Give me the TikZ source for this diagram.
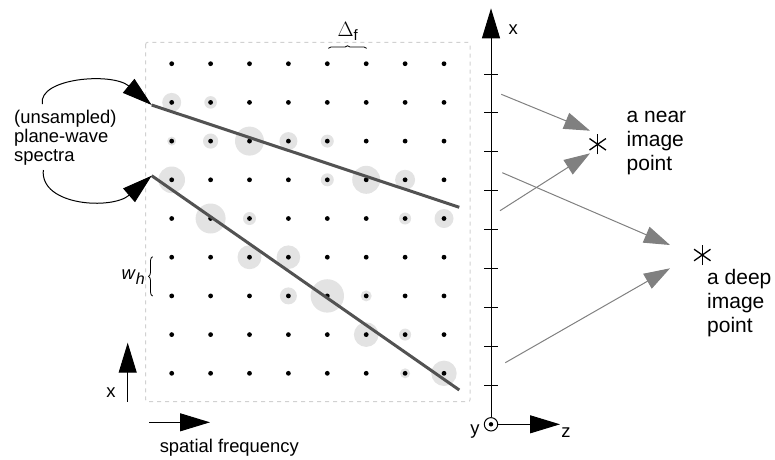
\documentclass[tikz,border=0pt]{standalone}
\usepackage{fontspec}
\setmainfont{Liberation Sans}
\usetikzlibrary{arrows.meta,positioning,calc,decorations.pathreplacing}

\begin{document}
\begin{tikzpicture}[x=1pt, y=-1pt,
    every node/.style={inner sep=0pt, font=\fontsize{18.4}{19}\selectfont},
    bigtip/.style={-{Triangle[length=30pt,width=18pt]}, line width=1pt},
    graytip/.style={-{Triangle[length=26pt,width=17pt]}, gray, line width=1pt},
    spectrum/.style={line width=3pt, black!68},
    halo/.style={fill=black!11},
    sample/.style={fill=black},
    framebox/.style={black!18, dashed, dash pattern=on 4pt off 4pt, line width=1pt, rounded corners=2pt},
    imglabel/.style={align=left, anchor=west, font=\fontsize{21}{24}\selectfont}]
    \useasboundingbox (0,0) rectangle (775,459);

    % sampling grid
    \draw[framebox] (145.7,42.3) rectangle (470,401.7);
    \foreach \c/\r/\rad in {0/1/9.5, 1/1/6.3, 0/2/4.5, 1/2/7.6, 2/2/14.5, 3/2/9, 4/2/6.5,
        0/3/13.3, 4/3/6.5, 5/3/14, 6/3/10, 1/4/15, 2/4/6.5, 6/4/6, 7/4/9.5,
        2/5/12, 3/5/11.8, 3/6/8.5, 4/6/16.7, 5/6/5.5, 5/7/12.3, 6/7/6, 6/8/5, 7/8/12.7}
        \fill[halo] (171.7+38.9*\c, 63.7+38.7*\r) circle (\rad);
    \foreach \c in {0,...,7}
        \foreach \r in {0,...,8}
            \fill[sample] (171.7+38.9*\c, 63.7+38.7*\r) circle (2.4);

    % plane-wave spectra
    \coordinate (sp1a) at (151.7,105);
    \coordinate (sp1b) at (459.3,207.3);
    \coordinate (sp2a) at (151.7,175.7);
    \coordinate (sp2b) at (459.3,390);
    \draw[spectrum] (sp1a) -- (sp1b);
    \draw[spectrum] (sp2a) -- (sp2b);

    \node[align=left, anchor=west] (unsamp) at (14,137.5) {(unsampled)\\plane-wave\\spectra};
    \coordinate (c1) at (42.3,104);
    \coordinate (c2) at (43.3,170);
    \draw[bigtip] (c1) .. controls (38,78) and (112,72) .. (sp1a);
    \draw[bigtip] (c2) .. controls (40,206) and (112,210) .. (sp2a);

    % spacings
    \coordinate (df1) at (328.3,48.3);
    \coordinate (df2) at (366.7,48.3);
    \draw[decorate, decoration={brace, amplitude=2.5pt}, line width=0.8pt] (df1) -- (df2);
    \node (dflab) at (347.7,31.5) {\fontsize{21}{21}\selectfont$\Delta$\raisebox{-4pt}{\fontsize{15}{15}\selectfont f}};
    \coordinate (wh1) at (152.5,296);
    \coordinate (wh2) at (152.5,256.7);
    \draw[decorate, decoration={brace, amplitude=4pt}, line width=0.8pt] (wh1) -- (wh2);
    \node (whlab) at (133.3,277) {\textit{w}\raisebox{-5pt}{\fontsize{16}{16}\selectfont\textit{h}}};

    % frequency axes
    \coordinate (fx0) at (127.7,401.7);
    \coordinate (fx1) at (127.7,342.7);
    \draw[bigtip] (fx0) -- (fx1);
    \node (fxlab) at (111,393) {x};
    \coordinate (ff0) at (149,422.3);
    \coordinate (ff1) at (210,422.3);
    \draw[bigtip] (ff0) -- (ff1);
    \node (fflab) at (229.3,447.5) {spatial frequency};

    % space axes
    \node[draw, circle, minimum size=13.4pt, line width=1pt] (ydot) at (491,424.3) {};
    \fill (ydot.center) circle (2.2);
    \coordinate (xtip) at (491,8.3);
    \coordinate (ztip) at (560,424.3);
    \draw[bigtip] (ydot) -- (xtip);
    \draw[bigtip] (ydot) -- (ztip);
    \foreach \t in {0,...,8}
        \draw[line width=1pt] (484,74+38.9*\t) -- (498,74+38.9*\t);
    \node (xlab) at (513.3,30) {x};
    \node (ylab) at (475,432) {y};
    \node (zlab) at (566,433) {z};

    % image points
    \coordinate (nearpt) at (597.7,144.3);
    \coordinate (deeppt) at (702.3,255);
    \foreach \p in {nearpt,deeppt}
        \foreach \a in {90,35,145}
            \draw[line width=1.3pt] ($(\p)+(\a:10)$) -- ($(\p)+(\a+180:10)$);
    \node[imglabel] (nearlab) at (626.5,143.3) {a near\\image\\point};
    \node[imglabel] (deeplab) at (707,303.3) {a deep\\image\\point};

    \coordinate (n1s) at (501.3,94.3);
    \coordinate (n1e) at (590,130.7);
    \coordinate (n2s) at (500,210.7);
    \coordinate (n2e) at (590,153.3);
    \coordinate (d1s) at (502.3,172.7);
    \coordinate (d1e) at (670,245);
    \coordinate (d2s) at (505.3,362.7);
    \coordinate (d2e) at (670,268.3);
    \draw[graytip] (n1s) -- (n1e);
    \draw[graytip] (n2s) -- (n2e);
    \draw[graytip] (d1s) -- (d1e);
    \draw[graytip] (d2s) -- (d2e);
\end{tikzpicture}
\end{document}
